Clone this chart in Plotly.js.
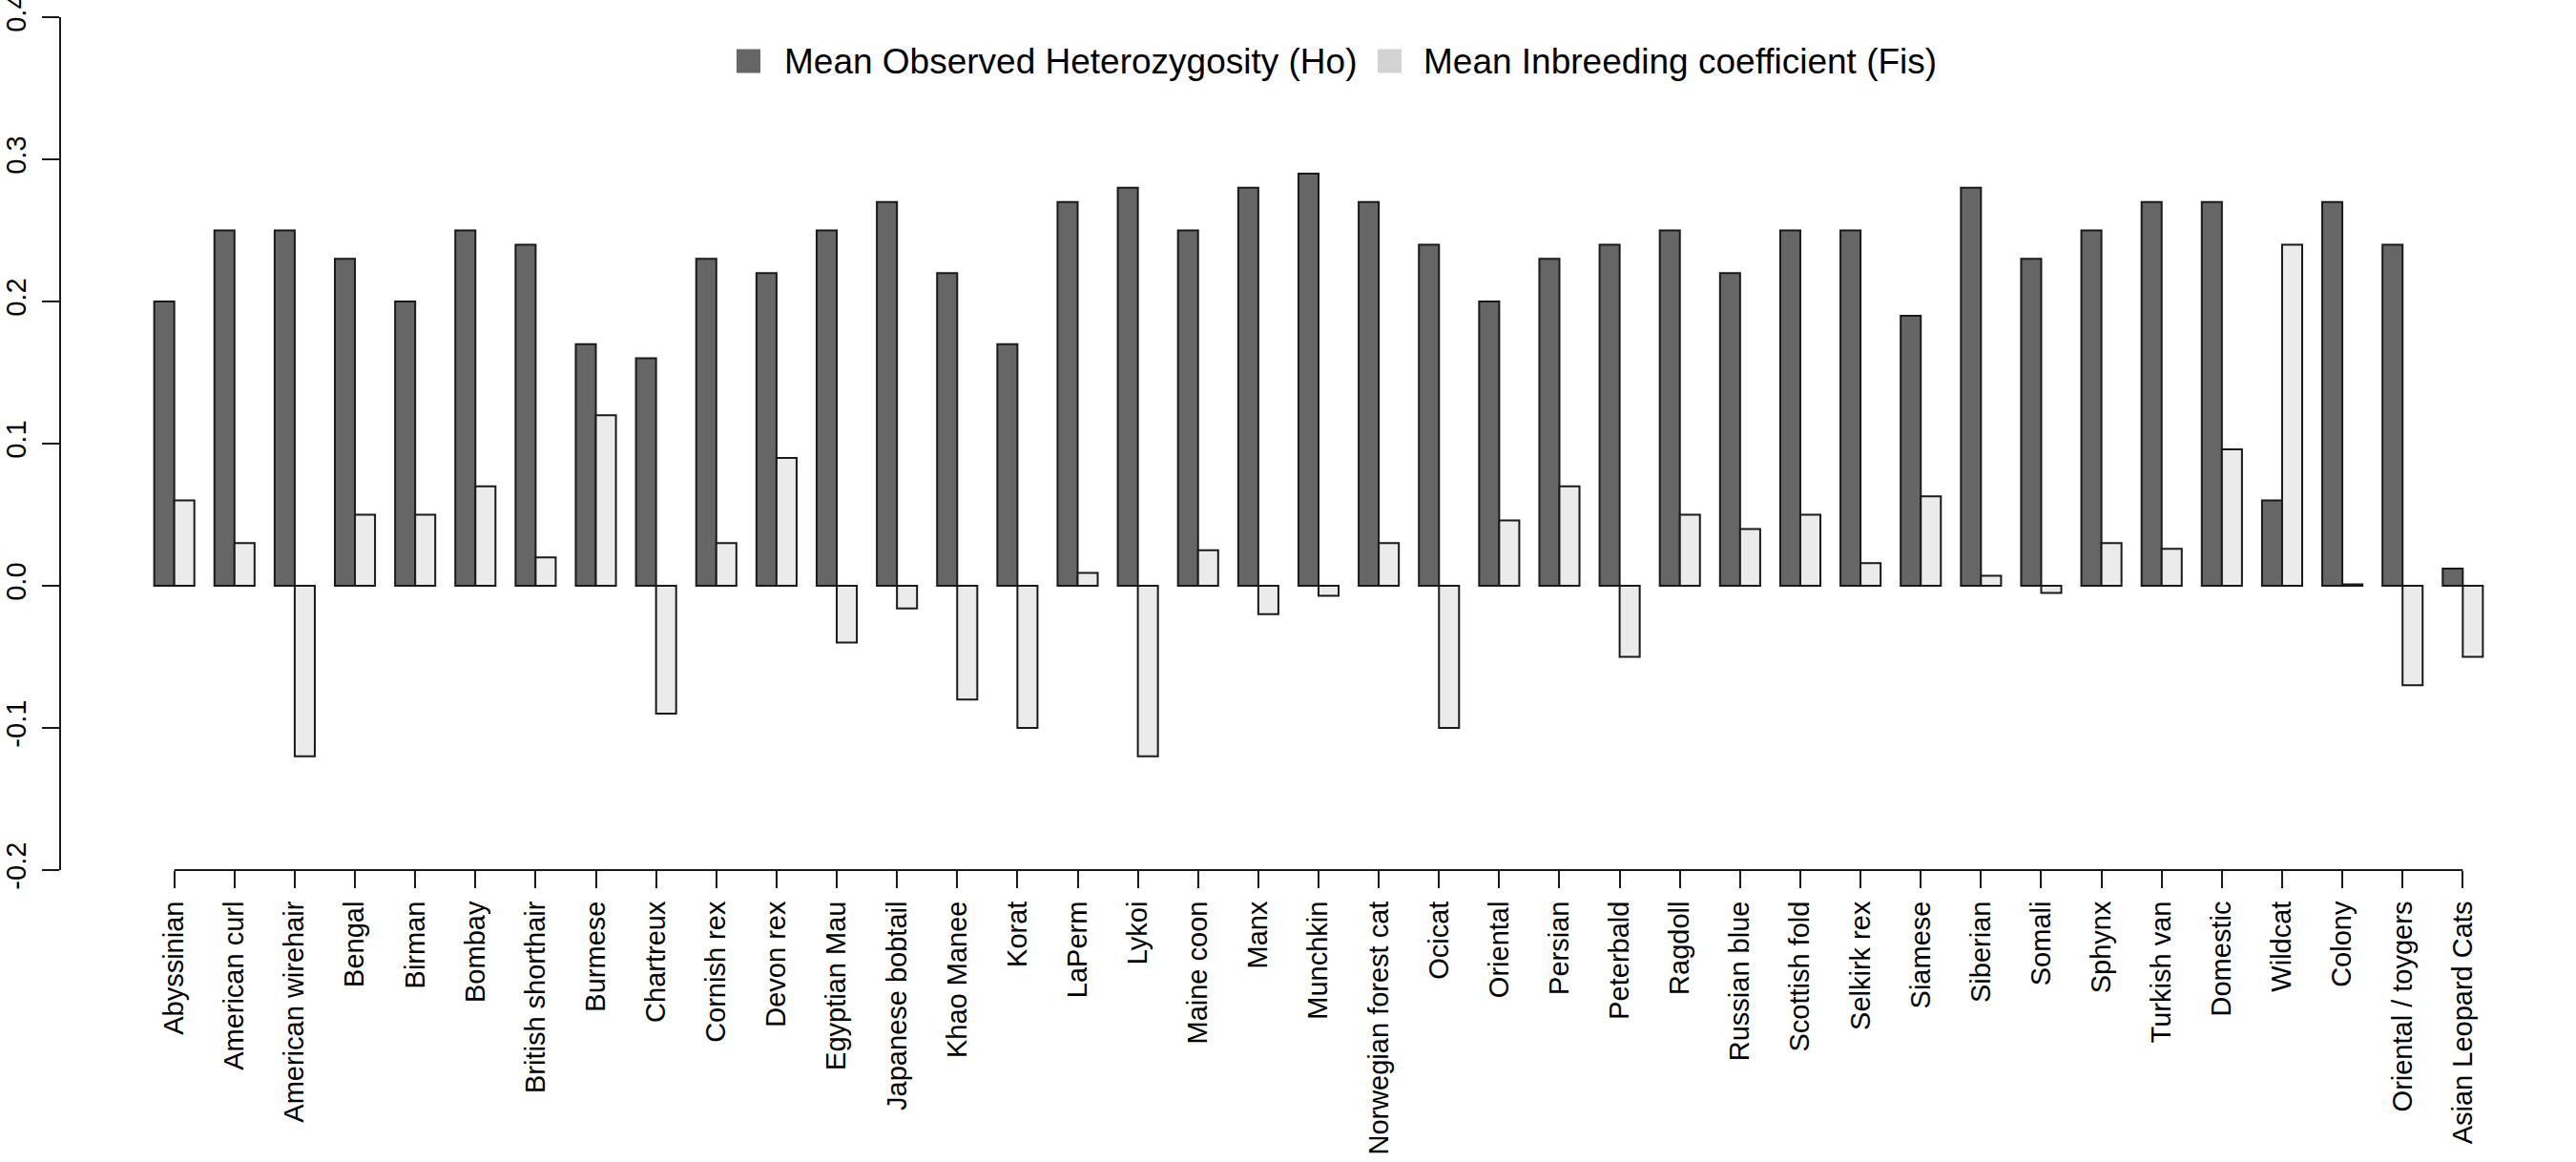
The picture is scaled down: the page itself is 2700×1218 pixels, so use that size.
<!DOCTYPE html>
<html>
<head>
<meta charset="utf-8">
<script src="https://cdn.plot.ly/plotly-3.0.1.min.js"></script>
<style>
html,body{margin:0;padding:0;background:#fff;}
#chart{width:2700px;height:1218px;}
</style>
</head>
<body>
<div id="chart"></div>
<script>
var breeds = ["Abyssinian","American curl","American wirehair","Bengal","Birman","Bombay","British shorthair","Burmese","Chartreux","Cornish rex","Devon rex","Egyptian Mau","Japanese bobtail","Khao Manee","Korat","LaPerm","Lykoi","Maine coon","Manx","Munchkin","Norwegian forest cat","Ocicat","Oriental","Persian","Peterbald","Ragdoll","Russian blue","Scottish fold","Selkirk rex","Siamese","Siberian","Somali","Sphynx","Turkish van","Domestic","Wildcat","Colony","Oriental / toygers","Asian Leopard Cats"];

var meanHo = [0.20,0.25,0.25,0.23,0.20,0.25,0.24,0.17,0.16,0.23,0.22,0.25,0.27,0.22,0.17,0.27,0.28,0.25,0.28,0.29,0.27,0.24,0.20,0.23,0.24,0.25,0.22,0.25,0.25,0.19,0.28,0.23,0.25,0.27,0.27,0.06,0.27,0.24,0.012];

var meanFis = [0.06,0.03,-0.12,0.05,0.05,0.07,0.02,0.12,-0.09,0.03,0.09,-0.04,-0.016,-0.08,-0.10,0.009,-0.12,0.025,-0.02,-0.007,0.03,-0.10,0.046,0.07,-0.05,0.05,0.04,0.05,0.016,0.063,0.007,-0.005,0.03,0.026,0.096,0.24,0.001,-0.07,-0.05];

var seriesNames = ["Mean Observed Heterozygosity (Ho)","Mean Inbreeding coefficient (Fis)"];
var seriesColors = ["#666666","#ebebeb"];
var legendColors = ["#666666","#d3d3d3"];
var yTickVals = [-0.2,-0.1,0.0,0.1,0.2,0.3,0.4];
var yTickText = ["-0.2","-0.1","0.0","0.1","0.2","0.3","0.4"];

var FONT = "Liberation Sans, Arial, Helvetica, sans-serif";

var W = 2700, H = 1218;
var M = {l:64, r:0, t:18, b:306};
var PW = W - M.l - M.r, PH = H - M.t - M.b;
function px(x){ return (x - M.l) / PW; }
function py(y){ return (H - M.b - y) / PH; }

var traces = [0,1].map(function(i){
  return {type:"bar", x:breeds, y:(i===0?meanHo:meanFis), name:seriesNames[i], showlegend:false,
          marker:{color:seriesColors[i], line:{color:"#1a1a1a", width:2}}};
});

// manual legend (R-style fill boxes)
var legBoxes = [{x0:772, x1:797}, {x0:1444, x1:1469}];
var legTextX = [820, 1490];
var legY = 64, legHalf = 12.5;
var shapes = [{type:"line", xref:"x", yref:"paper", x0:0, x1:breeds.length-1, y0:0, y1:0,
               line:{color:"#1a1a1a", width:2}}];
var annotations = [];
for (var i=0;i<2;i++){
  shapes.push({type:"rect", xref:"paper", yref:"paper",
    x0:px(legBoxes[i].x0), x1:px(legBoxes[i].x1), y0:py(legY+legHalf), y1:py(legY-legHalf),
    fillcolor:legendColors[i], line:{width:0}});
  annotations.push({xref:"paper", yref:"paper", x:px(legTextX[i]), y:py(legY),
    xanchor:"left", yanchor:"middle", showarrow:false, text:seriesNames[i],
    font:{family:FONT, size:37, color:"#000"}});
}

var layout = {
  width:W, height:H,
  paper_bgcolor:"#ffffff", plot_bgcolor:"#ffffff",
  margin:{l:M.l, r:M.r, t:M.t, b:M.b, pad:0},
  barmode:"group", bargap:1/3, bargroupgap:0,
  font:{family:FONT, color:"#000000", size:29},
  showlegend:false,
  xaxis:{type:"category", range:[-1.88, breeds.length + 0.88],
         showgrid:false, zeroline:false, showline:false,
         ticks:"outside", ticklen:18, tickwidth:2, tickcolor:"#1a1a1a",
         tickangle:-90, ticklabelstandoff:2, ticklabeloverflow:"allow",
         tickfont:{family:FONT, size:29, color:"#000"}},
  yaxis:{range:[-0.2000001, 0.4000001], showgrid:false, zeroline:false,
         showline:true, linecolor:"#1a1a1a", linewidth:2,
         tickmode:"array", tickvals:yTickVals, ticktext:yTickText,
         ticks:"outside", ticklen:18, tickwidth:2, tickcolor:"#1a1a1a",
         tickangle:-90, ticklabelstandoff:5, ticklabeloverflow:"allow",
         tickfont:{family:FONT, size:29, color:"#000"}},
  shapes:shapes,
  annotations:annotations
};

Plotly.newPlot("chart", traces, layout, {displayModeBar:false, staticPlot:true});
</script>
</body>
</html>
